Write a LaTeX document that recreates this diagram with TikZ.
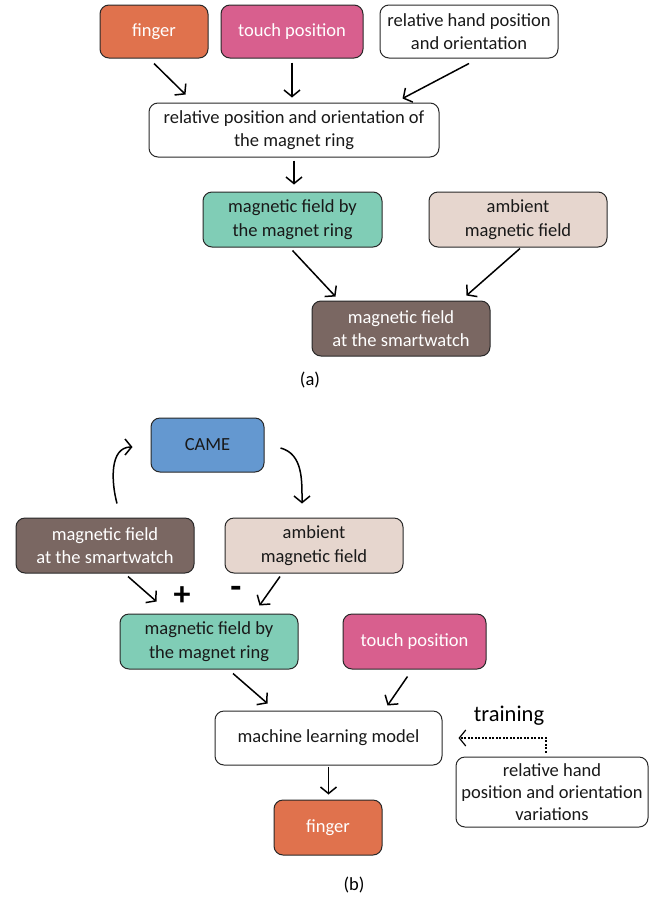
\documentclass[tikz,border=0pt]{standalone}
\usepackage{fontspec}
\setmainfont{Carlito}
\usepackage{xcolor}
\usepackage{tikz}
\usetikzlibrary{shapes}
\usetikzlibrary{calc}
\usetikzlibrary{arrows.meta}
\definecolor{c_orange}{RGB}{224,114,77}
\definecolor{c_pink}{RGB}{216,95,142}
\definecolor{c_teal}{RGB}{128,205,182}
\definecolor{c_beige}{RGB}{230,214,206}
\definecolor{c_brown}{RGB}{122,103,98}
\definecolor{c_blue}{RGB}{100,152,208}
\definecolor{c_line}{RGB}{40,40,40}
\tikzset{ box_var/.style = {rectangle, rounded corners=9pt, draw=c_line, line width=1pt, align=center, inner sep=2pt, text=black!90, font=\fontsize{18.5}{23.5}\selectfont} }
\tikzset{ arr/.style = {-{Straight Barb[length=6.5pt,width=16pt]}, line width=1.5pt} }

\begin{document}
\begin{tikzpicture}[x=1pt,y=1pt]
            \useasboundingbox (0,0) rectangle (657,-903);
            % (a)
            \node[box_var, fill=c_orange, text=white, minimum width=108, minimum height=53] (a0) at (154,-31.5) {finger};
            \node[box_var, fill=c_pink, text=white, minimum width=142, minimum height=53] (a1) at (292,-31.5) {touch position};
            \node[box_var, fill=white, minimum width=178, minimum height=53] (a2) at (469,-31.5) {relative hand position\\and orientation};
            \node[box_var, fill=white, minimum width=290, minimum height=54] (a3) at (294,-130) {relative position and orientation of\\the magnet ring};
            \node[box_var, fill=c_teal, minimum width=179, minimum height=55] (a4) at (292.5,-219.5) {magnetic field by\\the magnet ring};
            \node[box_var, fill=c_beige, minimum width=178, minimum height=55] (a5) at (518,-219.5) {ambient\\magnetic field};
            \node[box_var, fill=c_brown, text=white, minimum width=178, minimum height=55] (a6) at (401,-328.5) {magnetic field\\at the smartwatch};
            \node[font=\fontsize{18.5}{22}\selectfont] (la) at (310,-380) {(a)};
            \draw[arr] ([yshift=-5pt]a0.south) to ([xshift=37pt,yshift=8pt]a3.north west);
            \draw[arr, shorten <=4pt, shorten >=5pt] (a1.south) to (a1.south |- a3.north);
            \draw[arr] ([yshift=-5pt]a2.south) to ([xshift=-37pt,yshift=4pt]a3.north east);
            \draw[arr, shorten <=3pt, shorten >=7pt] (a3.south) to (a3.south |- a4.north);
            \draw[arr] ([yshift=-3pt]a4.south) to ([xshift=24pt,yshift=4pt]a6.north west);
            \draw[arr] ([xshift=2pt,yshift=-1pt]a5.south) to ([xshift=-24pt,yshift=5pt]a6.north east);
            % (b)
            \node[box_var, fill=c_blue, minimum width=113, minimum height=54] (b0) at (207.5,-445) {CAME};
            \node[box_var, fill=c_brown, text=white, minimum width=178, minimum height=55] (b1) at (105,-545.5) {magnetic field\\at the smartwatch};
            \node[box_var, fill=c_beige, minimum width=178, minimum height=55] (b2) at (314,-545.5) {ambient\\magnetic field};
            \node[box_var, fill=c_teal, minimum width=178, minimum height=55] (b3) at (209,-641.5) {magnetic field by\\the magnet ring};
            \node[box_var, fill=c_pink, text=white, minimum width=143, minimum height=55] (b4) at (414.5,-641.5) {touch position};
            \node[box_var, fill=white, minimum width=227, minimum height=54] (b5) at (328.5,-738) {machine learning model};
            \node[box_var, fill=c_orange, text=white, minimum width=108, minimum height=55] (b6) at (328,-827.5) {finger};
            \node[box_var, fill=white, minimum width=192, minimum height=70, font=\fontsize{18.5}{22}\selectfont] (b7) at (552,-792) {relative hand\\position and orientation\\variations};
            \node[font=\fontsize{22.5}{24}\selectfont] (tr) at (509,-716) {training};
            \node[font=\bfseries\fontsize{34}{34}\selectfont] (plus) at (182,-596) {+};
            \node[font=\bfseries\fontsize{36}{36}\selectfont] (minus) at (236,-592) {-};
            \node[font=\fontsize{18.5}{22}\selectfont] (lb) at (354,-885) {(b)};
            \draw[arr] ([xshift=12pt,yshift=14pt]b1.north) to[out=105, in=180] ([xshift=-18pt,yshift=-2pt]b0.west);
            \draw[arr] ([xshift=16pt,yshift=-3pt]b0.east) to[out=-15, in=90] ([xshift=-12pt,yshift=14pt]b2.north);
            \draw[arr] ([xshift=23pt,yshift=-3pt]b1.south) to ([xshift=37pt,yshift=12pt]b3.north west);
            \draw[arr] ([xshift=-34pt,yshift=-3pt]b2.south) to ([xshift=-39pt,yshift=8pt]b3.north east);
            \draw[arr] ([xshift=24pt,yshift=-4pt]b3.south) to ([xshift=53pt,yshift=7pt]b5.north west);
            \draw[arr] ([xshift=-7pt,yshift=-7pt]b4.south) to ([xshift=-55pt,yshift=5pt]b5.north east);
            \draw[arr, shorten <=1pt, shorten >=5pt] (b5.south) to (b5.south |- b6.north);
            \draw[arr, dash pattern=on 2pt off 1.5pt, line width=1.2pt] ([xshift=-6pt,yshift=4pt]b7.north) |- ([xshift=16pt]b5.east);
        \end{tikzpicture}
\end{document}
